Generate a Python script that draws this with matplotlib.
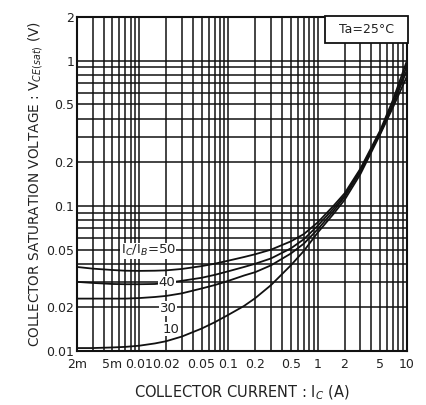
import matplotlib
matplotlib.use("Agg")
import matplotlib.pyplot as plt
from matplotlib.patches import Rectangle
from matplotlib.ticker import FixedLocator, LogLocator, NullFormatter

# collector current (A) where the curves were read
ic = [0.002, 0.003, 0.005, 0.007, 0.01, 0.015, 0.02, 0.03, 0.05, 0.07, 0.1,
      0.15, 0.2, 0.3, 0.5, 0.7, 1.0, 1.5, 2.0, 3.0, 5.0, 7.0, 10.0]

# Vce(sat) in volts for each Ic/IB ratio
vce_50 = [0.038, 0.037, 0.0362, 0.0358, 0.0357, 0.0358, 0.036, 0.0368,
          0.0385, 0.040, 0.042, 0.0445, 0.0465, 0.050, 0.057, 0.064, 0.077,
          0.100, 0.122, 0.18, 0.33, 0.54, 1.0]
vce_40 = [0.030, 0.0295, 0.029, 0.0289, 0.0289, 0.029, 0.0295, 0.0305,
          0.032, 0.0335, 0.0355, 0.038, 0.040, 0.0435, 0.051, 0.059, 0.073,
          0.096, 0.118, 0.176, 0.32, 0.51, 0.93]
vce_30 = [0.023, 0.023, 0.023, 0.023, 0.0232, 0.0236, 0.024, 0.025, 0.027,
          0.0285, 0.0305, 0.0332, 0.035, 0.039, 0.047, 0.055, 0.069, 0.092,
          0.115, 0.172, 0.315, 0.50, 0.86]
vce_10 = [0.0105, 0.0105, 0.0106, 0.0107, 0.0109, 0.0113, 0.0117, 0.0126,
          0.0143, 0.0158, 0.0178, 0.0205, 0.0232, 0.0285, 0.039, 0.049, 0.0655,
          0.088, 0.11, 0.165, 0.31, 0.48, 0.78]

x_ticks = [0.002, 0.005, 0.01, 0.02, 0.05, 0.1, 0.2, 0.5, 1, 2, 5, 10]
x_labels = ["2m", "5m", "0.01", "0.02", "0.05", "0.1", "0.2", "0.5",
            "1", "2", "5", "10"]
y_ticks = [0.01, 0.02, 0.05, 0.1, 0.2, 0.5, 1, 2]
y_labels = ["0.01", "0.02", "0.05", "0.1", "0.2", "0.5", "1", "2"]

# curve labels: text, x, y
curve_labels = [
    ("I$_C$/I$_B$=50", 0.0126, 0.049),
    ("40", 0.0205, 0.0296),
    ("30", 0.021, 0.0197),
    ("10", 0.0225, 0.0142),
]

fig = plt.figure(figsize=(4.27, 4.05), dpi=100)
ax = fig.add_axes([0.180, 0.133, 0.773, 0.825])
ax.set_xscale("log")
ax.set_yscale("log")
ax.set_xlim(0.002, 10)
ax.set_ylim(0.01, 2)

ax.xaxis.set_major_locator(FixedLocator(x_ticks))
ax.set_xticklabels(x_labels)
ax.yaxis.set_major_locator(FixedLocator(y_ticks))
ax.set_yticklabels(y_labels)
ax.xaxis.set_minor_locator(LogLocator(base=10, subs=range(1, 10), numticks=30))
ax.yaxis.set_minor_locator(LogLocator(base=10, subs=range(1, 10), numticks=30))
ax.xaxis.set_minor_formatter(NullFormatter())
ax.yaxis.set_minor_formatter(NullFormatter())

ax.grid(True, which="both", color="#111111", lw=1.1)
ax.tick_params(which="both", length=0, labelsize=9, colors="#222222")
ax.tick_params(axis="x", pad=5)
ax.tick_params(axis="y", pad=2)
for s in ax.spines.values():
    s.set_linewidth(1.5)
    s.set_color("#111111")

for v in (vce_50, vce_40, vce_30, vce_10):
    ax.plot(ic, v, color="#111111", lw=1.3, zorder=3)

for txt, x, y in curve_labels:
    ax.text(x, y, txt, fontsize=9.5, ha="center", va="center", zorder=4,
            color="#222222",
            bbox=dict(facecolor="white", edgecolor="none", pad=0.5))

ax.add_patch(Rectangle((0.752, 0.922), 0.25, 0.08, transform=ax.transAxes,
                       facecolor="white", edgecolor="#111111", lw=1.3,
                       zorder=5, clip_on=False))
ax.text(0.877, 0.962, "Ta=25°C", transform=ax.transAxes, fontsize=9,
        ha="center", va="center", zorder=6, color="#222222")

ax.set_xlabel("COLLECTOR CURRENT : I$_C$ (A)", fontsize=10.5, labelpad=9,
              color="#222222")
ax.set_ylabel("COLLECTOR SATURATION VOLTAGE : V$_{CE(sat)}$ (V)", fontsize=9.8,
              labelpad=1, color="#222222")

fig.savefig("out.png", dpi=100)
